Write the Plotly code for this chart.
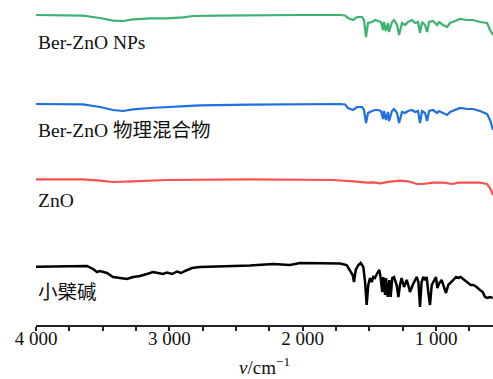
import plotly.graph_objects as go

# Wavenumbers (cm^-1) and transmittance (a.u., vertically offset)
ber_nps_w = [4000, 3648, 3520, 3422, 3348, 3272, 3145, 3018, 2898, 2822, 2642, 2395, 2020, 1720, 1682,
             1660, 1622, 1592, 1555, 1540, 1525, 1510, 1480, 1457, 1435, 1412, 1397, 1390, 1375, 1360,
             1352, 1330, 1315, 1292, 1277, 1255, 1232, 1210, 1180, 1157, 1135, 1120, 1105, 1082, 1067,
             1052, 1022, 992, 977, 947, 917, 895, 857, 820, 767, 722, 670, 617, 595, 572]
ber_nps_t = [32.0, 31.93, 31.7, 31.43, 31.4, 31.57, 31.67, 31.67, 31.77, 31.9, 31.93, 31.97, 32.0, 32.0, 31.95,
             31.7, 31.5, 31.8, 31.8, 31.5, 29.8, 31.2, 31.3, 31.5, 31.4, 31.3, 30.5, 31.3, 30.4, 31.2,
             30.3, 31.3, 31.5, 31.0, 30.0, 31.2, 31.0, 31.3, 31.5, 31.2, 31.3, 30.2, 31.3, 31.0, 30.3,
             31.3, 31.4, 31.0, 31.3, 31.0, 30.8, 31.2, 31.4, 31.6, 31.5, 31.5, 31.3, 31.2, 30.5, 30.0]

mix_w = [4000, 3648, 3520, 3422, 3348, 3272, 3145, 3018, 2898, 2770, 2395, 2020, 1720, 1682,
         1660, 1622, 1592, 1555, 1540, 1525, 1510, 1480, 1457, 1435, 1412, 1397, 1390, 1375, 1360,
         1352, 1330, 1315, 1292, 1277, 1255, 1232, 1210, 1180, 1157, 1135, 1120, 1105, 1082, 1067,
         1052, 1022, 992, 977, 947, 917, 895, 857, 820, 767, 722, 670, 617, 595, 572]
mix_t = [23.1, 23.07, 22.8, 22.5, 22.4, 22.57, 22.7, 22.77, 22.83, 22.97, 23.03, 23.1, 23.1, 23.05,
         22.7, 22.5, 22.8, 22.8, 22.5, 21.2, 22.2, 22.4, 22.5, 22.5, 22.4, 21.6, 22.4, 21.5, 22.3,
         21.4, 22.4, 22.6, 22.2, 21.2, 22.3, 22.2, 22.4, 22.5, 22.3, 22.4, 21.2, 22.4, 22.2, 21.4,
         22.4, 22.5, 22.2, 22.4, 22.2, 22.0, 22.3, 22.5, 22.7, 22.6, 22.6, 22.4, 22.1, 21.5, 20.5]

zno_w = [4000, 3648, 3520, 3422, 3272, 3018, 2395, 2148, 1772, 1592, 1518, 1472, 1420, 1345, 1270,
         1210, 1142, 1098, 1022, 948, 872, 835, 768, 670, 618, 595, 572]
zno_t = [15.57, 15.57, 15.43, 15.3, 15.37, 15.5, 15.57, 15.57, 15.5, 15.33, 15.23, 15.27, 15.17, 15.33, 15.43,
         15.37, 15.1, 15.1, 15.23, 15.23, 15.1, 15.23, 15.23, 15.23, 15.1, 14.7, 14.0]

ber_w = [4000, 3618, 3572, 3542, 3520, 3468, 3422, 3370, 3318, 3272, 3220, 3168, 3122, 3085, 3048,
         3018, 2980, 2942, 2912, 2882, 2860, 2830, 2770, 2522, 2395, 2222, 2095, 2020, 1720,
         1670, 1645, 1625, 1615, 1602, 1582, 1565, 1545, 1532, 1520, 1508, 1495, 1482, 1470, 1458,
         1440, 1425, 1415, 1403, 1395, 1382, 1375, 1362, 1350, 1340, 1328, 1315, 1295, 1282, 1270,
         1258, 1240, 1220, 1208, 1195, 1175, 1158, 1145, 1132, 1120, 1108, 1095, 1082, 1070, 1058,
         1045, 1032, 1015, 1000, 990, 975, 958, 940, 925, 908, 890, 870, 850, 832, 815, 790, 765,
         740, 720, 695, 670, 650, 632, 615, 595, 575]
ber_t = [6.83, 6.9, 6.6, 6.3, 6.4, 6.2, 5.8, 5.7, 5.6, 5.8, 5.9, 6.1, 6.3, 6.2, 6.1,
         6.25, 6.1, 6.35, 6.2, 6.4, 6.5, 6.7, 6.8, 6.9, 6.95, 7.1, 7.0, 7.2, 7.15,
         7.0, 6.5, 6.0, 5.3, 6.5, 7.0, 7.2, 6.8, 5.3, 3.0, 5.0, 5.7, 5.3, 5.8, 5.7,
         6.2, 6.5, 5.7, 4.3, 5.8, 4.0, 5.7, 3.8, 5.5, 3.8, 5.7, 5.8, 5.0, 3.8, 5.0,
         5.7, 4.8, 5.5, 5.0, 4.3, 5.0, 5.5, 5.8, 5.3, 2.8, 5.3, 5.8, 5.5, 5.8, 4.3,
         3.0, 5.0, 5.5, 5.8, 4.7, 5.2, 5.5, 4.8, 4.2, 5.0, 5.2, 5.5, 5.8, 5.7, 5.8, 5.5, 5.3,
         5.0, 5.0, 4.8, 4.5, 4.3, 3.8, 3.7, 3.8, 3.7]

labels = ["Ber-ZnO NPs", "Ber-ZnO 物理混合物", "ZnO", "小檗碱"]
label_t = [29.3, 20.5, 13.5, 4.3]
colors = ["#3cb371", "#1f6fe0", "#ff5050", "#000000"]

tick_vals = [4000, 3750, 3500, 3250, 3000, 2750, 2500, 2250, 2000, 1750, 1500, 1250, 1000, 750]
tick_text = ["4 000", "", "", "", "3 000", "", "", "", "2 000", "", "", "", "1 000", ""]
x_title = "<i>v</i>/cm<sup>−1</sup>"

serif = "Liberation Serif, Times New Roman, Noto Sans CJK SC, serif"

fig = go.Figure()
series = [(ber_nps_w, ber_nps_t), (mix_w, mix_t), (zno_w, zno_t), (ber_w, ber_t)]
widths = [2.2, 2.2, 2.2, 2.5]
for (w, t), c, lw, name in zip(series, colors, widths, labels):
    fig.add_trace(go.Scatter(x=w, y=t, mode="lines", line=dict(color=c, width=lw),
                             name=name, showlegend=False))

for txt, yy in zip(labels, label_t):
    fig.add_annotation(x=0, xref="paper", y=yy, yref="y", text=txt, showarrow=False,
                       xanchor="left", yanchor="middle",
                       font=dict(family=serif, size=19.5, color="#111111"))

fig.add_annotation(x=0.5, xref="paper", y=-0.17, yref="paper", text=x_title, showarrow=False,
                   xanchor="center", yanchor="bottom",
                   font=dict(family=serif, size=19, color="#111111"))

fig.update_layout(
    width=493, height=379,
    margin=dict(l=36, r=0, t=0, b=54),
    paper_bgcolor="white", plot_bgcolor="white",
    xaxis=dict(range=[4000, 572.5], tickvals=tick_vals, ticktext=tick_text,
               ticks="outside", ticklen=4, tickwidth=1.5, tickcolor="#222222",
               ticklabelstandoff=-9,
               showline=True, linecolor="#222222", linewidth=1.5,
               showgrid=False, zeroline=False,
               tickfont=dict(family=serif, size=19, color="#111111")),
    yaxis=dict(range=[1.0, 33.5], visible=False, showgrid=False, zeroline=False),
)

fig.write_html("out.html")
